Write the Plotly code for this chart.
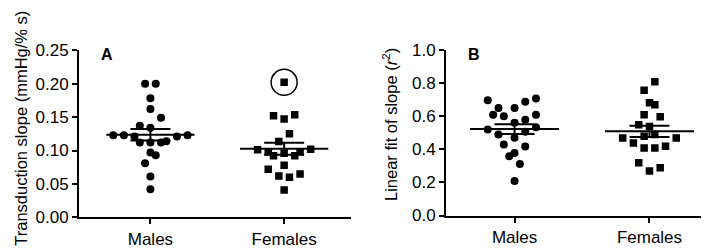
import numpy as np
import plotly.graph_objects as go

categories = ["Males", "Females"]

# Panel A: transduction slope (mmHg/% s)
males_a = [0.200, 0.200, 0.178, 0.162, 0.149, 0.137, 0.134, 0.123, 0.123, 0.121, 0.121,
           0.123, 0.112, 0.112, 0.112, 0.114, 0.097, 0.093, 0.081, 0.061, 0.042]
males_a_jitter = [-0.5, 0.5, 0, 0, 1, -1, 0, -3.5, -2.5, -1.5, 2.5, 3.5, -1, 0, 1, 1.5, 0, 0.5, -0.5, 0, 0]
females_a = [0.202, 0.152, 0.147, 0.1535, 0.125, 0.1135, 0.101, 0.098, 0.092, 0.096, 0.092,
             0.098, 0.102, 0.078, 0.072, 0.062, 0.060, 0.065, 0.041]
females_a_jitter = [0, -1, 0, 1, 0.5, -0.5, -2.5, -1.5, -1, 0, 1, 1.5, 2.5, 0, -1.5, -0.5, 0.5, 1.5, 0]

# Panel B: linear fit of slope (r^2)
males_b = [0.698, 0.650, 0.609, 0.600, 0.650, 0.689, 0.708, 0.609, 0.579, 0.561, 0.520,
           0.534, 0.490, 0.507, 0.471, 0.430, 0.417, 0.378, 0.358, 0.311, 0.209]
males_b_jitter = [-2.5, -1.5, -2, -1, 0, 1, 2, 2, 1, 0, -2.5, 2, -1.5, 1, 0, -1, 1, 0, -0.5, 0.5, 0]
females_b = [0.810, 0.758, 0.682, 0.670, 0.609, 0.598, 0.549, 0.538, 0.479, 0.490, 0.469,
             0.469, 0.439, 0.408, 0.408, 0.419, 0.320, 0.289, 0.270]
females_b_jitter = [0.5, -0.5, 0, 0.5, -0.5, 1, -1, 0, -0.5, 0.5, -2.5, 2.5, -1.5, -0.5, 0.5, 1.5, -1, 1, 0]

a_ticks = [0.00, 0.05, 0.10, 0.15, 0.20, 0.25]
b_ticks = [0.0, 0.2, 0.4, 0.6, 0.8, 1.0]

FONT = "Liberation Sans, Arial, sans-serif"
SLOT = 0.0794
HALF_MEAN = 0.33

fig = go.Figure()


def add_group(vals, jit, pos, symbol, msize, xa, ya):
    v = np.array(vals)
    x = pos + np.array(jit) * SLOT
    fig.add_trace(go.Scatter(x=x, y=v, mode="markers", xaxis=xa, yaxis=ya,
                             marker=dict(symbol=symbol, size=msize, color="black", line=dict(width=0)),
                             showlegend=False, hoverinfo="y"))
    m = v.mean()
    sem = v.std(ddof=1) / np.sqrt(len(v))
    fig.add_trace(go.Scatter(x=[pos - HALF_MEAN, pos + HALF_MEAN], y=[m, m], mode="lines",
                             xaxis=xa, yaxis=ya, line=dict(color="black", width=2),
                             showlegend=False, hoverinfo="skip"))
    fig.add_trace(go.Scatter(x=[pos], y=[m], mode="lines", xaxis=xa, yaxis=ya,
                             error_y=dict(type="data", array=[sem], visible=True, width=20,
                                          thickness=2, color="black"),
                             showlegend=False, hoverinfo="skip"))
    return v


add_group(males_a, males_a_jitter, 1, "circle", 8, "x", "y")
fa = add_group(females_a, females_a_jitter, 2, "square", 7.5, "x", "y")
# highlighted outlier
io = int(np.argmax(fa))
fig.add_trace(go.Scatter(x=[2 + females_a_jitter[io] * SLOT], y=[fa[io]], mode="markers",
                         xaxis="x", yaxis="y",
                         marker=dict(symbol="circle-open", size=26, color="black", line=dict(width=1.5)),
                         showlegend=False, hoverinfo="skip"))
add_group(males_b, males_b_jitter, 1, "circle", 8, "x2", "y2")
add_group(females_b, females_b_jitter, 2, "square", 7.5, "x2", "y2")

W, H = 709, 248
axis_common = dict(showline=True, linecolor="black", linewidth=2, ticks="outside",
                   tickcolor="black", tickwidth=1.5, ticklen=5, showgrid=False, zeroline=False,
                   tickfont=dict(family=FONT, size=17, color="black"))

fig.update_layout(
    width=W, height=H, margin=dict(l=0, r=0, t=0, b=0, pad=0),
    plot_bgcolor="white", paper_bgcolor="white",
    xaxis=dict(domain=[71 / W, 343 / W], range=[0.466, 2.5], tickvals=[1, 2], ticktext=categories,
               anchor="y", **axis_common),
    yaxis=dict(domain=[31 / H, 212 / H], range=[0, 0.25], tickvals=a_ticks, tickformat=".2f",
               anchor="x", **axis_common),
    xaxis2=dict(domain=[438 / W, 708 / W], range=[0.492, 2.493], tickvals=[1, 2], ticktext=categories,
                anchor="y2", **axis_common),
    yaxis2=dict(domain=[33 / H, 212 / H], range=[0, 1.0], tickvals=b_ticks, tickformat=".1f",
                anchor="x2", **axis_common),
    font=dict(family=FONT, size=16, color="black"),
)

ann = dict(xref="paper", yref="paper", showarrow=False, xanchor="center", yanchor="middle")
fig.add_annotation(text="Transduction slope (mmHg/% s)", textangle=-90, x=13 / W, y=1 - 121 / H,
                   font=dict(family=FONT, size=16.5, color="black"), **ann)
fig.add_annotation(text="Linear fit of slope (<i>r</i><sup>2</sup>)", textangle=-90, x=382 / W, y=1 - 117 / H,
                   font=dict(family=FONT, size=16.5, color="black"), **ann)
fig.add_annotation(text="<b>A</b>", x=99 / W, y=1 - 41 / H,
                   font=dict(family=FONT, size=16, color="black"), **ann)
fig.add_annotation(text="<b>B</b>", x=466 / W, y=1 - 41 / H,
                   font=dict(family=FONT, size=16, color="black"), **ann)

fig.write_html("out.html")
